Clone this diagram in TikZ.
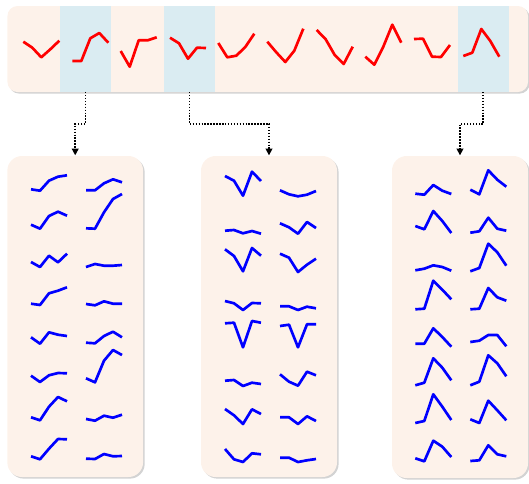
\documentclass[tikz,border=0pt]{standalone}
\usetikzlibrary{shadows,arrows.meta}
\definecolor{peach}{HTML}{FDF2EA}
\definecolor{hlblue}{HTML}{DAECF2}
\tikzset{
  panel/.style={fill=peach, draw=none, inner sep=0pt, outer sep=0pt,
    drop shadow={opacity=0.35, shadow xshift=1.2pt, shadow yshift=-1.2pt, fill=gray}},
  hlcol/.style={fill=hlblue, draw=none, inner sep=0pt, outer sep=0pt,
    minimum width=38.25pt, minimum height=64.5pt},
  spark/.style={line width=2pt, line join=round, line cap=butt},
  redspark/.style={spark, draw=red},
  bluespark/.style={spark, draw=blue},
  conn/.style={line width=1.1pt, dash pattern=on 1.1pt off 1.1pt,
    -{Triangle[length=5pt,width=5pt]}, shorten >=0.5pt}
}
\newcommand\spk[7]{\draw[#1] (#2,#3) -- (#2+9,#4) -- (#2+18,#5) -- (#2+27,#6) -- (#2+36,#7);}
\begin{document}
\begin{tikzpicture}[x=0.75pt,y=-0.75pt]
\useasboundingbox (0,0) rectangle (529,483);
% top bar
\node[panel, rounded corners=7.5pt, minimum width=390.4pt, minimum height=64.5pt] (bar) at (267.75,49) {};
\node[hlcol] (hl1) at (85.5,49) {};
\node[hlcol] (hl2) at (189.5,49) {};
\node[hlcol] (hl3) at (483.2,49) {};
% bottom boxes
\node[panel, rounded corners=11pt, minimum width=101.8pt, minimum height=240.75pt] (box1) at (75.2,316.5) {};
\node[panel, rounded corners=11pt, minimum width=102pt, minimum height=240.75pt] (box2) at (269,316.5) {};
\node[panel, rounded corners=11pt, minimum width=102pt, minimum height=241.5pt] (box3) at (460,317) {};
% red sparklines
\spk{redspark}{23.3}{41.7}{47.7}{57.3}{49.3}{40.7}
\spk{redspark}{72.3}{61}{61}{38.3}{33}{42.7}
\spk{redspark}{120.7}{51}{66.7}{40.3}{40.3}{37.3}
\spk{redspark}{170}{37.7}{43.3}{58.7}{47.7}{48}
\spk{redspark}{218.3}{43}{57.3}{55.7}{47}{33.7}
\spk{redspark}{267.3}{41.7}{52.3}{62}{50.7}{28.7}
\spk{redspark}{316.7}{30}{39.3}{55}{64}{46.7}
\spk{redspark}{365.3}{56.7}{64.7}{46.7}{24.7}{42.7}
\spk{redspark}{414}{39}{38.7}{56.7}{57}{45}
\spk{redspark}{463.3}{56}{52.7}{29}{41}{56.7}
% left box
\spk{bluespark}{31}{189.3}{190.7}{180.7}{176.7}{175.3}
\spk{bluespark}{86}{190.3}{190.3}{183.3}{179.3}{182.3}
\spk{bluespark}{31}{224.7}{228.7}{216}{211.7}{215.7}
\spk{bluespark}{86}{228.3}{228.7}{212.3}{199}{194}
\spk{bluespark}{31}{262}{267}{255.7}{262.3}{253.7}
\spk{bluespark}{86}{267}{264}{265.7}{265.7}{265}
\spk{bluespark}{31}{303.7}{305}{293.3}{290.7}{287.3}
\spk{bluespark}{86}{304}{305.3}{301.3}{303.7}{303.7}
\spk{bluespark}{31}{337.3}{343.7}{332.3}{334.7}{336}
\spk{bluespark}{86}{342.7}{343.3}{336}{331.7}{337.3}
\spk{bluespark}{31}{375.7}{382}{375.3}{373}{373.3}
\spk{bluespark}{86}{378.3}{382.3}{360.7}{350}{355}
\spk{bluespark}{31}{417.3}{420.3}{406.7}{397}{401.3}
\spk{bluespark}{86}{419}{420.7}{415.7}{417.7}{414.7}
\spk{bluespark}{31}{456.3}{459.3}{448.7}{439}{439.3}
\spk{bluespark}{86}{458.7}{459}{454}{456.3}{456}
% middle box
\spk{bluespark}{225}{176}{180.7}{195.7}{171.7}{181}
\spk{bluespark}{280}{190.3}{194.3}{196.3}{194.7}{191}
\spk{bluespark}{225}{230.7}{230}{233.3}{231}{233.7}
\spk{bluespark}{280}{223.3}{227.3}{233.7}{222}{228}
\spk{bluespark}{225}{249.3}{256}{271.3}{248}{255.7}
\spk{bluespark}{280}{253.7}{257.7}{272}{264.7}{258.7}
\spk{bluespark}{225}{301}{303.3}{310}{303}{303.3}
\spk{bluespark}{280}{306.3}{306.3}{310}{306.7}{308.3}
\spk{bluespark}{225}{323.3}{322.7}{347.3}{321}{322.7}
\spk{bluespark}{280}{326}{324.7}{347.3}{324.3}{324.3}
\spk{bluespark}{225}{380.7}{380}{386}{382.7}{384}
\spk{bluespark}{280}{374.3}{381.7}{385.7}{371.7}{375.3}
\spk{bluespark}{225}{409}{415.3}{424}{409.3}{414}
\spk{bluespark}{280}{417.3}{417.3}{424}{416.3}{421}
\spk{bluespark}{225}{449}{459.3}{462}{453.3}{454.3}
\spk{bluespark}{280}{457.7}{457.7}{462}{460.3}{459}
% right box
\spk{bluespark}{415.3}{193.7}{194.7}{185}{190.7}{194}
\spk{bluespark}{470.3}{189.7}{194.3}{170.3}{179.7}{186.7}
\spk{bluespark}{415.3}{226}{229.3}{211}{221}{233}
\spk{bluespark}{470.3}{232.7}{231.3}{217.7}{228.7}{230.7}
\spk{bluespark}{415.3}{270.3}{268.7}{265.3}{267}{270.7}
\spk{bluespark}{470.3}{271.3}{268}{243.7}{252.3}{265.7}
\spk{bluespark}{415.3}{309.3}{308.7}{280.7}{289.7}{299.3}
\spk{bluespark}{470.3}{309.3}{308.7}{288}{297.3}{300.7}
\spk{bluespark}{415.3}{343.7}{343.7}{328.3}{337}{346.7}
\spk{bluespark}{470.3}{342}{340.7}{335}{335}{346.3}
\spk{bluespark}{415.3}{385.3}{382.7}{358.3}{367.7}{380.3}
\spk{bluespark}{470.3}{385.3}{381.7}{355.3}{363.3}{376.3}
\spk{bluespark}{415.3}{423}{421}{394.3}{406.7}{420}
\spk{bluespark}{470.3}{419.3}{423}{400.7}{410.3}{420.3}
\spk{bluespark}{415.3}{458.3}{461.3}{440.7}{446.7}{457}
\spk{bluespark}{470.3}{461}{460.3}{445.3}{454.3}{456.3}
% connectors
\draw[conn] (hl1.south) -- (hl1.south |- 0,124) -- (box1.north |- 0,124) -- (box1.north);
\draw[conn] (hl2.south) -- (hl2.south |- 0,124) -- (box2.north |- 0,124) -- (box2.north);
\draw[conn] (hl3.south) -- (hl3.south |- 0,124) -- (box3.north |- 0,124) -- (box3.north);
\end{tikzpicture}
\end{document}
